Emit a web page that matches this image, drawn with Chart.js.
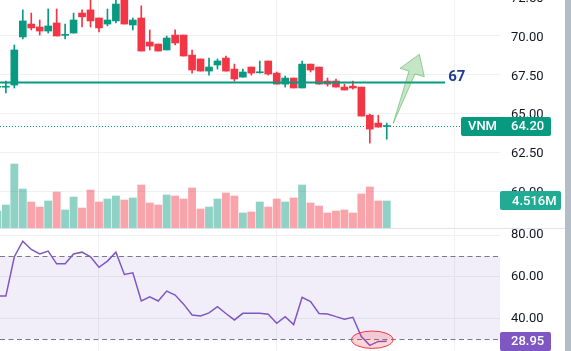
<!DOCTYPE html>
<html>
<head>
<meta charset="utf-8">
<script src="https://cdn.jsdelivr.net/npm/chart.js@4.4.0/dist/chart.umd.min.js"></script>
<style>
  html, body { margin: 0; padding: 0; background: #fff; overflow: hidden; }
  #wrap { position: relative; width: 571px; height: 351px; overflow: hidden; }
  #priceBox { position: absolute; left: 0; top: -20px; width: 571px; height: 248px; }
  #rsiBox { position: absolute; left: 0; top: 228px; width: 571px; height: 123px; }
  #sep { position: absolute; left: 0; top: 228px; width: 565px; height: 1px; background: #e0e3eb; }
  #scroll { position: absolute; right: 0; top: 0; width: 6px; height: 351px; background: #b4bcc6; }
</style>
</head>
<body>
<div id="wrap">
  <div id="priceBox"><canvas id="priceChart" width="571" height="248"></canvas></div>
  <div id="rsiBox"><canvas id="rsiChart" width="571" height="123"></canvas></div>
  <div id="sep"></div>
  <div id="scroll"></div>
</div>
<script>
// daily candles, index 0..46
const opens  = [66.70,66.70,66.84,69.94,70.77,70.58,70.32,70.84,70.04,70.19,71.48,71.68,71.16,70.77,70.97,72.45,70.71,71.16,69.61,69.48,69.10,70.06,70.06,68.77,68.52,67.74,68.13,68.58,67.87,67.35,68.00,67.63,68.39,67.61,66.90,67.29,66.65,68.19,68.00,67.10,67.10,66.71,66.77,66.71,64.90,64.39,64.17];
const highs  = [66.78,67.10,69.42,71.68,71.48,71.03,71.74,71.74,70.77,71.48,71.68,72.40,71.16,71.74,72.35,72.60,71.16,71.94,70.39,69.48,70.00,70.39,70.06,69.10,68.52,68.58,68.52,68.71,68.19,67.87,68.00,68.39,68.39,67.68,67.42,67.29,68.39,68.19,68.00,67.29,67.23,66.90,67.10,66.71,64.97,64.90,64.39];
const lows   = [66.64,66.34,66.65,69.81,70.39,70.06,70.19,70.00,69.81,70.19,70.58,70.58,70.26,70.65,70.84,70.77,70.39,69.03,69.10,69.03,69.10,69.42,68.71,67.61,67.74,67.48,67.87,67.74,67.10,67.35,67.48,67.61,67.48,66.90,66.71,66.65,66.65,67.68,66.90,66.77,66.71,66.52,66.58,64.84,63.10,64.13,63.35];
const closes = [66.76,66.76,69.10,70.97,70.52,70.32,70.65,70.00,70.10,71.03,71.23,70.97,70.52,71.03,72.06,70.77,71.03,69.03,69.35,69.03,69.87,69.55,68.71,67.81,67.74,68.00,68.39,67.74,67.23,67.68,67.61,67.69,67.55,66.90,67.29,66.65,68.19,67.81,66.90,66.90,66.71,66.52,66.65,64.84,64.00,64.13,64.20];
// volume, millions of shares
const volumes = [2.84,3.85,10.70,6.52,4.35,3.51,4.52,6.02,3.01,5.18,3.34,6.35,4.35,4.85,5.35,4.68,5.02,7.19,4.18,3.85,5.52,5.35,4.85,6.69,3.18,3.51,4.85,5.85,5.35,2.51,2.68,4.35,3.51,4.85,4.35,5.02,7.19,4.18,3.68,2.51,2.84,3.01,2.51,5.69,6.86,4.52,4.516];
// RSI(14)
const rsiValues = [50.7,50.7,69.6,77.1,73.1,70.9,72.3,66.2,66.2,70.9,71.8,69.6,64.5,67.5,71.8,61.1,61.9,48.3,50.3,48.3,53.1,51.2,46.8,41.6,41.1,42.6,45.6,42.3,39.2,42.4,42.4,42.4,42.0,37.6,40.8,37.0,50.1,48.0,42.3,42.1,40.8,39.6,40.5,31.2,27.0,28.9,28.95];

const priceTicks = [72.5, 70, 67.5, 65, 62.5, 60];
const rsiTicks = [80, 60, 40];
const timeGrid = [12, 33, 54];
const rsiBand = [30, 70];
const symbol = 'VNM';
const supportLevel = 67;
const supportEnd = 52.9;
// drawing annotations, in (bar index, value)
const arrowPoints = [[46.77, 64.375], [48.63, 67.745], [47.57, 67.919], [49.85, 68.821], [50.44, 67.378], [49.34, 67.552]];
const rsiCircle = { x: 44.29, y: 29.7, rx: 2.45, ry: 4.18 };

const UP = '#089981', DOWN = '#f23645';
const GRID = '#eff1f5';
const FONT = 'Roboto';
const idx = closes.map((_, i) => i);
const isUp = idx.map(i => closes[i] >= opens[i]);

const X_MIN = 0.307, X_MAX = 59.38;

function fitRight(s) { s.width = 71; s.paddingTop = 0; s.paddingBottom = 0; }
function fitX(s) { s.height = 0; s.paddingLeft = 0; s.paddingRight = 0; }

function xScale() {
  return {
    type: 'linear', min: X_MIN, max: X_MAX, position: 'bottom', offset: false,
    ticks: { display: false },
    grid: { color: GRID, drawTicks: false, offset: false },
    border: { display: false },
    afterBuildTicks: s => { s.ticks = timeGrid.map(v => ({ value: v })); },
    afterFit: fitX
  };
}

function tag(ctx, left, right, cy, color, parts) {
  ctx.save();
  ctx.fillStyle = color;
  ctx.beginPath();
  ctx.roundRect(left, Math.round(cy - 9.5), right - left, 19, 2);
  ctx.fill();
  ctx.fillStyle = '#fff';
  ctx.font = '500 13px ' + FONT;
  ctx.textBaseline = 'middle';
  parts.forEach(([t, tx]) => ctx.fillText(t, tx, cy + 0.5));
  ctx.restore();
}

const priceExtras = {
  id: 'priceExtras',
  beforeDatasetsDraw(chart) {
    const { ctx, chartArea: a, scales: { y } } = chart;
    const py = Math.round(y.getPixelForValue(closes[closes.length - 1])) + 0.5;
    ctx.save();
    ctx.strokeStyle = UP; ctx.lineWidth = 1; ctx.setLineDash([1, 2]);
    ctx.beginPath(); ctx.moveTo(a.left, py); ctx.lineTo(a.right, py); ctx.stroke();
    ctx.restore();
  },
  afterDatasetsDraw(chart) {
    const { ctx, scales: { x, y } } = chart;
    ctx.save();
    ctx.beginPath();
    arrowPoints.forEach(([i, p], k) => {
      const px = x.getPixelForValue(i), py = y.getPixelForValue(p);
      k ? ctx.lineTo(px, py) : ctx.moveTo(px, py);
    });
    ctx.closePath();
    ctx.fillStyle = 'rgba(76,175,80,0.32)'; ctx.fill();
    ctx.strokeStyle = 'rgba(76,175,80,0.55)'; ctx.lineWidth = 1; ctx.stroke();
    ctx.font = 'bold 15px ' + FONT; ctx.fillStyle = '#1f3c99'; ctx.textBaseline = 'alphabetic';
    ctx.fillText(String(supportLevel), x.getPixelForValue(supportEnd) + 3, y.getPixelForValue(supportLevel) - 2);
    ctx.restore();
  },
  afterDraw(chart) {
    const { ctx, chartArea: a, scales: { y, yv } } = chart;
    const last = closes.length - 1;
    tag(ctx, a.right - 39, a.right + 51, y.getPixelForValue(closes[last]), UP,
      [[symbol, a.right - 32], [closes[last].toFixed(2), a.right + 11]]);
    tag(ctx, a.right, a.right + 61, yv.getPixelForValue(volumes[last]), '#22ab94',
      [[volumes[last].toFixed(3) + 'M', a.right + 12]]);
  }
};

new Chart(document.getElementById('priceChart'), {
  type: 'bar',
  data: {
    datasets: [
      {
        type: 'line', order: 0, yAxisID: 'y',
        data: [{ x: -1, y: supportLevel }, { x: supportEnd, y: supportLevel }],
        borderColor: UP, borderWidth: 2, pointRadius: 0
      },
      {
        order: 1, yAxisID: 'y', grouped: false, barThickness: 7, minBarLength: 1,
        data: idx.map(i => ({ x: i, y: [opens[i], closes[i]] })),
        backgroundColor: idx.map(i => isUp[i] ? UP : DOWN), borderWidth: 0
      },
      {
        order: 2, yAxisID: 'y', grouped: false, barThickness: 1,
        data: idx.map(i => ({ x: i, y: [lows[i], highs[i]] })),
        backgroundColor: idx.map(i => isUp[i] ? UP : DOWN), borderWidth: 0
      },
      {
        order: 3, yAxisID: 'yv', grouped: false, barThickness: 7.2,
        data: idx.map(i => ({ x: i, y: volumes[i] })),
        backgroundColor: idx.map(i => isUp[i] ? 'rgba(8,153,129,0.45)' : 'rgba(242,54,69,0.45)'), borderWidth: 0
      }
    ]
  },
  options: {
    responsive: false, animation: false, devicePixelRatio: 1,
    layout: { padding: 0 },
    plugins: { legend: { display: false }, tooltip: { enabled: false } },
    scales: {
      x: xScale(),
      y: {
        type: 'linear', position: 'right', min: 57.629, max: 73.608,
        grid: { color: GRID, drawTicks: false },
        border: { display: false },
        ticks: { padding: 11, labelOffset: 1.5, color: '#131722', font: { family: FONT, size: 13 }, callback: v => v.toFixed(2) },
        afterBuildTicks: s => { s.ticks = priceTicks.map(v => ({ value: v })); },
        afterFit: fitRight
      },
      yv: { type: 'linear', display: false, min: 0, max: 41.47 }
    }
  },
  plugins: [priceExtras]
});

const rsiExtras = {
  id: 'rsiExtras',
  beforeDatasetsDraw(chart) {
    const { ctx, chartArea: a, scales: { y } } = chart;
    const top = y.getPixelForValue(rsiBand[1]), bot = y.getPixelForValue(rsiBand[0]);
    ctx.save();
    ctx.fillStyle = 'rgba(126,87,194,0.1)';
    ctx.fillRect(a.left, top, a.right - a.left, bot - top);
    ctx.strokeStyle = '#787b86'; ctx.lineWidth = 1; ctx.setLineDash([5, 3.5]);
    [top, bot].forEach(py => {
      const yy = Math.round(py) + 0.5;
      ctx.beginPath(); ctx.moveTo(a.left, yy); ctx.lineTo(a.right, yy); ctx.stroke();
    });
    ctx.restore();
  },
  afterDatasetsDraw(chart) {
    const { ctx, scales: { x, y } } = chart;
    const cx = x.getPixelForValue(rsiCircle.x), cy = y.getPixelForValue(rsiCircle.y);
    const rx = Math.abs(x.getPixelForValue(rsiCircle.x + rsiCircle.rx) - cx);
    const ry = Math.abs(y.getPixelForValue(rsiCircle.y + rsiCircle.ry) - cy);
    ctx.save();
    ctx.beginPath(); ctx.ellipse(cx, cy, rx, ry, 0, 0, Math.PI * 2);
    ctx.fillStyle = 'rgba(242,54,69,0.2)'; ctx.fill();
    ctx.strokeStyle = DOWN; ctx.lineWidth = 1; ctx.stroke();
    ctx.restore();
  },
  afterDraw(chart) {
    const { ctx, chartArea: a, scales: { y } } = chart;
    const last = rsiValues[rsiValues.length - 1];
    tag(ctx, a.right, a.right + 51, y.getPixelForValue(last), '#7e57c2', [[last.toFixed(2), a.right + 11]]);
  }
};

new Chart(document.getElementById('rsiChart'), {
  type: 'line',
  data: {
    datasets: [{
      data: idx.map(i => ({ x: i, y: rsiValues[i] })),
      borderColor: '#7e57c2', borderWidth: 1.5, pointRadius: 0, tension: 0
    }]
  },
  options: {
    responsive: false, animation: false, devicePixelRatio: 1,
    layout: { padding: 0 },
    plugins: { legend: { display: false }, tooltip: { enabled: false } },
    scales: {
      x: xScale(),
      y: {
        type: 'linear', position: 'right', min: 24.28, max: 83.41,
        grid: { color: GRID, drawTicks: false },
        border: { display: false },
        ticks: { padding: 11, color: '#131722', font: { family: FONT, size: 13 }, callback: v => v.toFixed(2) },
        afterBuildTicks: s => { s.ticks = rsiTicks.map(v => ({ value: v })); },
        afterFit: fitRight
      }
    }
  },
  plugins: [rsiExtras]
});
</script>
</body>
</html>
